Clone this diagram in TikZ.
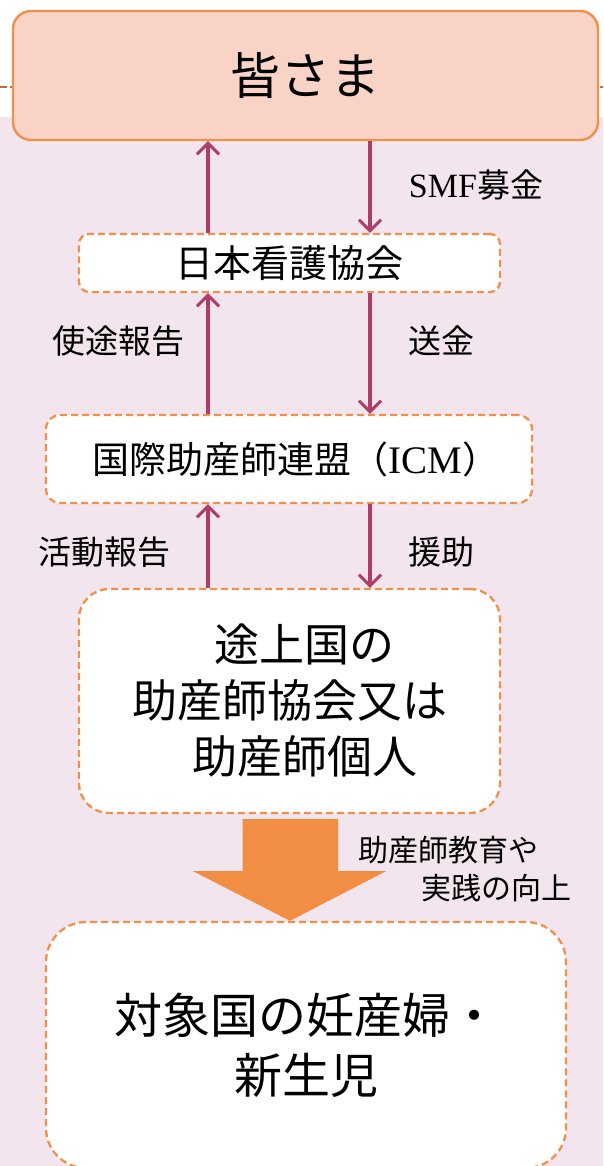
\documentclass[tikz,border=0pt]{standalone}
\usepackage{fontspec}
\setmainfont{Liberation Serif}
\newfontfamily\jp{Noto Sans CJK JP}
\usetikzlibrary{arrows.meta,calc}
\definecolor{bgpink}{HTML}{F3E5EE}
\definecolor{topfill}{HTML}{F9D4C6}
\definecolor{orangeline}{HTML}{F0904A}
\definecolor{arrowcol}{HTML}{B03C68}
\definecolor{bigarrow}{HTML}{F28E43}
\definecolor{topdash}{HTML}{C8683A}
\newcommand{\fsz}[2]{\fontsize{#1}{#2}\selectfont}
\tikzset{
  dbox/.style={draw=orangeline, line width=2.3pt, dash pattern=on 7pt off 4pt, fill=white, inner sep=0pt, align=center},
  arr/.style={draw=arrowcol, line width=3.2pt, -{Straight Barb[length=11pt,width=22pt,line width=3pt]}},
  lbl/.style={inner sep=0pt, align=center, font=\jp\fsz{33}{40}}
}
\begin{document}
\begin{tikzpicture}[x=1pt,y=-1pt]
\useasboundingbox (0,0) rectangle (603,1166);
\clip (0,0) rectangle (603,1166);
\fill[bgpink] (0,117) rectangle (603,1166);
\draw[topdash, line width=1.8pt, dash pattern=on 7pt off 3pt] (0,87) -- (603,87);
\node[draw=orangeline, line width=2.4pt, fill=topfill, rounded corners=18pt, minimum width=585pt, minimum height=129pt, inner sep=0pt, font=\jp\fsz{50}{55}] (b1) at (305.5,75.5) {\raisebox{-4pt}{皆さま}};
\node[dbox, rounded corners=10pt, minimum width=421pt, minimum height=58pt, font=\jp\fsz{38}{44}] (b2) at (289.5,263) {日本看護協会};
\node[dbox, rounded corners=14pt, minimum width=486pt, minimum height=88pt, font=\jp\fsz{37}{44}] (b3) at (289,459) {\hspace*{14pt}国際助産師連盟（{\rmfamily\fsz{39}{44}ICM}）};
\node[dbox, rounded corners=30pt, minimum width=421pt, minimum height=224pt, font=\jp\fsz{45}{56}] (b4) at (289.5,701) {\hspace*{30pt}途上国の\\助産師協会又は\\\hspace*{30pt}助産師個人};
\node[dbox, rounded corners=40pt, minimum width=520pt, minimum height=246pt, font=\jp\fsz{48}{60}] (b5) at (306,1045) {対象国の妊産婦・\\新生児};
\coordinate (L) at (208,0);
\coordinate (R) at (370,0);
\draw[arr] (b2.north -| L) -- (b1.south -| L);
\draw[arr] (b1.south -| R) -- (b2.north -| R);
\draw[arr] (b3.north -| L) -- (b2.south -| L);
\draw[arr] (b2.south -| R) -- (b3.north -| R);
\draw[arr] (b4.north -| L) -- (b3.south -| L);
\draw[arr] (b3.south -| R) -- (b4.north -| R);
\fill[bigarrow] ($(b4.south)+(-47,5)$) -- ($(b4.south)+(48.5,5)$) -- ($(b4.south)+(48.5,57)$) -- ($(b4.south)+(96.5,57)$) -- (b5.north -| 290,0) -- ($(b4.south)+(-96.5,57)$) -- ($(b4.south)+(-47,57)$) -- cycle;
\node[lbl] (l1) at (476,185) {{\rmfamily\fsz{34}{40}SMF}募金};
\node[lbl] (l2) at (118,341) {使途報告};
\node[lbl] (l3) at (441,341) {送金};
\node[lbl] (l4) at (104,552) {活動報告};
\node[lbl] (l5) at (441,552) {援助};
\node[lbl, anchor=west, font=\jp\fsz{30}{36}] (l6) at (358,850) {助産師教育や};
\node[lbl, anchor=west, font=\jp\fsz{30}{36}] (l7) at (421,888) {実践の向上};
\end{tikzpicture}
\end{document}
